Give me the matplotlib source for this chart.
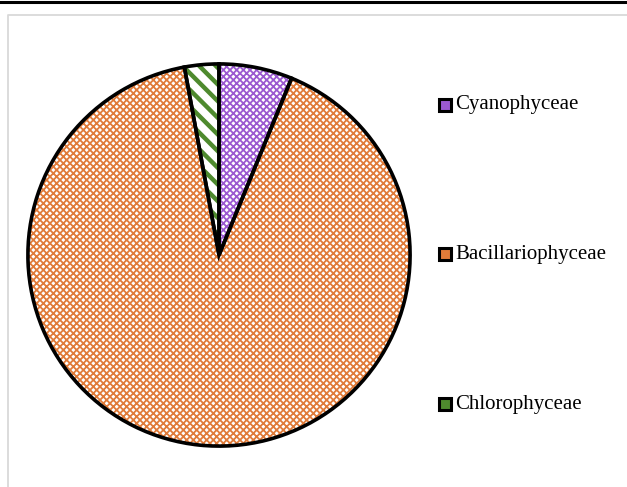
import numpy as np
import matplotlib.pyplot as plt
from matplotlib.patches import Rectangle
from matplotlib.lines import Line2D

labels = ["Cyanophyceae", "Bacillariophyceae", "Chlorophyceae"]
values = [6.2, 90.9, 2.9]
hatch_colors = ["#9B59D0", "#E07B39", "#4E8A2E"]
hatches = ["xxxxx", "xxxxx", "\\\\"]
hatch_widths = [1.3, 1.3, 3.2]

plt.rcParams['font.family'] = ['Liberation Serif', 'DejaVu Serif']
plt.rcParams['hatch.linewidth'] = 1.3

W, H = 627, 487
fig = plt.figure(figsize=(W / 100, H / 100), dpi=100)

# top rule and chart-area frame
fig.add_artist(Line2D([0, 1], [1 - 2 / H, 1 - 2 / H], color="black", lw=2.2,
                      transform=fig.transFigure))
fig.add_artist(Line2D([8 / W, 8 / W, 1], [0, 1 - 15 / H, 1 - 15 / H],
                      color="#D9D9D9", lw=1.3, transform=fig.transFigure))

ax = fig.add_axes([26 / W, 39 / H, 386 / W, 386 / H])
# hatch layer
wedges, _ = ax.pie(values, startangle=90, counterclock=False, radius=1,
                   wedgeprops=dict(facecolor="white", linewidth=0))
for w, c, h, lw in zip(wedges, hatch_colors, hatches, hatch_widths):
    w.set_edgecolor(c)
    w.set_hatch(h)
    if hasattr(w, "set_hatch_linewidth"):
        w.set_hatch_linewidth(lw)
# outline layer
ax.pie(values, startangle=90, counterclock=False, radius=1,
       wedgeprops=dict(fill=False, edgecolor="black", linewidth=2.6))
ax.set_xlim(-1.01, 1.01)
ax.set_ylim(-1.01, 1.01)
ax.axis("off")

# legend
ys = [105, 254, 404]
for lab, c, y in zip(labels, hatch_colors, ys):
    r = Rectangle((439 / W, 1 - (y + 6) / H), 12 / W, 12 / H, transform=fig.transFigure,
                  facecolor=c, edgecolor="black", linewidth=2.2)
    fig.add_artist(r)
    fig.text(455 / W, 1 - y / H, lab, fontsize=15, va="center", ha="left", color="black")

fig.savefig("out.png", dpi=100)
